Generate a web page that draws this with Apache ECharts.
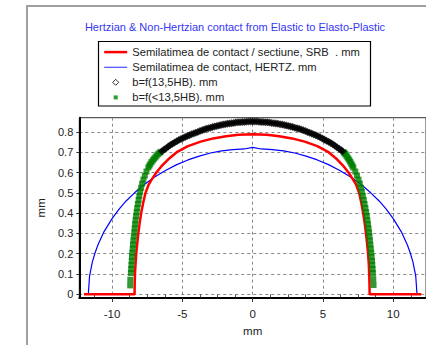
<!DOCTYPE html>
<html>
<head>
<meta charset="utf-8">
<script src="https://cdn.jsdelivr.net/npm/echarts@6/dist/echarts.min.js"></script>
<style>
  html, body { margin: 0; padding: 0; background: #fff; }
  #chart { width: 426px; height: 345px; }
</style>
</head>
<body>
<div id="chart"></div>
<script>
// Axis ticks and labels
const xTickLabels = [-10, -5, 0, 5, 10];
const xMinorTicks = [-11.25, -8.75, -7.5, -6.25, -3.75, -2.5, -1.25, 1.25, 2.5, 3.75, 6.25, 7.5, 8.75, 11.25];
const yTickLabels = [0, 0.1, 0.2, 0.3, 0.4, 0.5, 0.6, 0.7, 0.8];

// Series names
const nameSRB = 'Semilatimea de contact / sectiune, SRB  . mm';
const nameHertz = 'Semilatimea de contact, HERTZ. mm';
const nameHB = 'b=f(13,5HB). mm';
const nameHBlow = 'b=f(<13,5HB). mm';

// Semi-width of contact per section (SRB), [x mm, b mm]
const srbWidth = [
  [-12.0, 0], [-8.40, 0], [-8.39, 0.05], [-8.37, 0.10], [-8.33, 0.15], [-8.28, 0.20],
  [-8.21, 0.25], [-8.13, 0.30], [-8.04, 0.35], [-7.93, 0.40], [-7.79, 0.45], [-7.62, 0.50],
  [-7.40, 0.54], [-7.14, 0.57], [-6.85, 0.60], [-6.50, 0.63], [-6.00, 0.665], [-5.40, 0.70],
  [-4.60, 0.730], [-3.70, 0.752], [-2.80, 0.768], [-1.90, 0.779], [-1.00, 0.786], [0, 0.789],
  [1.00, 0.786], [1.90, 0.779], [2.80, 0.768], [3.70, 0.752], [4.60, 0.730], [5.40, 0.700],
  [6.00, 0.665], [6.48, 0.63], [6.82, 0.60], [7.10, 0.57], [7.36, 0.54], [7.57, 0.50],
  [7.73, 0.45], [7.86, 0.40], [7.97, 0.35], [8.06, 0.30], [8.14, 0.25], [8.21, 0.20],
  [8.26, 0.15], [8.29, 0.10], [8.31, 0.05], [8.32, 0], [12.0, 0]
];

// Hertzian semi-width of contact, [x mm, b mm]
const hertzWidth = [
  [-11.69, 0], [-11.6, 0.09], [-11.4, 0.16], [-11.2, 0.206], [-11.0, 0.244], [-10.6, 0.305],
  [-10.0, 0.373], [-9.5, 0.42], [-9.0, 0.46], [-8.4, 0.50], [-7.8, 0.536], [-7.0, 0.577],
  [-6.2, 0.61], [-5.4, 0.639], [-4.6, 0.662], [-3.8, 0.681], [-3.0, 0.696], [-2.2, 0.707],
  [-1.4, 0.713], [-0.6, 0.716], [0, 0.724], [0.6, 0.716], [1.4, 0.713], [2.2, 0.707],
  [3.0, 0.696], [3.8, 0.681], [4.6, 0.662], [5.4, 0.639], [6.2, 0.61], [7.0, 0.577],
  [7.8, 0.536], [8.4, 0.50], [9.0, 0.46], [9.5, 0.42], [10.0, 0.373], [10.6, 0.305],
  [11.0, 0.244], [11.2, 0.206], [11.4, 0.16], [11.6, 0.09], [11.69, 0]
];

// b = f(13,5HB), [x mm, b mm]
const hb135 = [
  [-6.45, 0.705], [-6.30, 0.713], [-6.15, 0.720], [-6.00, 0.728], [-5.85, 0.735], [-5.70, 0.742],
  [-5.55, 0.748], [-5.40, 0.754], [-5.25, 0.760], [-5.10, 0.765], [-4.95, 0.770], [-4.80, 0.775],
  [-4.65, 0.780], [-4.50, 0.784], [-4.35, 0.788], [-4.20, 0.792], [-4.05, 0.796], [-3.90, 0.800],
  [-3.75, 0.804], [-3.60, 0.808], [-3.45, 0.812], [-3.30, 0.815], [-3.15, 0.818], [-3.00, 0.821],
  [-2.85, 0.824], [-2.70, 0.827], [-2.55, 0.829], [-2.40, 0.832], [-2.25, 0.834], [-2.10, 0.836],
  [-1.95, 0.838], [-1.80, 0.840], [-1.65, 0.841], [-1.50, 0.843], [-1.35, 0.844], [-1.20, 0.846],
  [-1.05, 0.847], [-0.90, 0.848], [-0.75, 0.849], [-0.60, 0.849], [-0.45, 0.850], [-0.30, 0.851],
  [-0.15, 0.851], [0.00, 0.851], [0.15, 0.851], [0.30, 0.851], [0.45, 0.850], [0.60, 0.849],
  [0.75, 0.849], [0.90, 0.848], [1.05, 0.847], [1.20, 0.846], [1.35, 0.844], [1.50, 0.843],
  [1.65, 0.841], [1.80, 0.840], [1.95, 0.838], [2.10, 0.836], [2.25, 0.834], [2.40, 0.832],
  [2.55, 0.829], [2.70, 0.827], [2.85, 0.824], [3.00, 0.821], [3.15, 0.818], [3.30, 0.815],
  [3.45, 0.812], [3.60, 0.808], [3.75, 0.804], [3.90, 0.800], [4.05, 0.796], [4.20, 0.792],
  [4.35, 0.787], [4.50, 0.783], [4.65, 0.779], [4.80, 0.774], [4.95, 0.768], [5.10, 0.763],
  [5.25, 0.757], [5.40, 0.751], [5.55, 0.745], [5.70, 0.739], [5.85, 0.732], [6.00, 0.725],
  [6.15, 0.717], [6.30, 0.710], [6.40, 0.705]
];

// b = f(<13,5HB), [x mm, b mm]
const hbBelow = [
  [-8.71, 0.044], [-8.70, 0.072], [-8.66, 0.105], [-8.64, 0.125], [-8.62, 0.145], [-8.60, 0.165],
  [-8.58, 0.185], [-8.56, 0.205], [-8.53, 0.225], [-8.51, 0.245], [-8.48, 0.265], [-8.45, 0.285],
  [-8.42, 0.305], [-8.39, 0.325], [-8.36, 0.345], [-8.33, 0.365], [-8.29, 0.385], [-8.25, 0.405],
  [-8.21, 0.425], [-8.16, 0.445], [-8.11, 0.465], [-8.06, 0.485], [-8.00, 0.505], [-7.93, 0.525],
  [-7.86, 0.545], [-7.77, 0.565], [-7.67, 0.585], [-7.55, 0.605], [-7.42, 0.625], [-7.34, 0.634],
  [-7.27, 0.643], [-7.19, 0.652], [-7.10, 0.660], [-7.01, 0.668], [-6.92, 0.675], [-6.83, 0.683],
  [-6.73, 0.690], [-6.64, 0.696], [-6.55, 0.702],
  [8.60, 0.046], [8.58, 0.075], [8.55, 0.105], [8.53, 0.125], [8.51, 0.145], [8.49, 0.165],
  [8.46, 0.185], [8.43, 0.205], [8.40, 0.225], [8.37, 0.245], [8.34, 0.265], [8.31, 0.285],
  [8.28, 0.305], [8.24, 0.325], [8.20, 0.345], [8.16, 0.365], [8.12, 0.385], [8.07, 0.405],
  [8.02, 0.425], [7.96, 0.445], [7.90, 0.465], [7.84, 0.485], [7.77, 0.505], [7.70, 0.525],
  [7.62, 0.545], [7.53, 0.565], [7.42, 0.585], [7.30, 0.605], [7.16, 0.625], [7.09, 0.634],
  [7.02, 0.643], [6.95, 0.652], [6.88, 0.660], [6.81, 0.668], [6.74, 0.675], [6.67, 0.683],
  [6.60, 0.690], [6.54, 0.695], [6.48, 0.700]
];

const FONT = '"Liberation Sans", Arial, sans-serif';
const textColor = '#222';
const gridDash = { type: [3, 3], color: '#888', width: 1 };

// Legend glyphs drawn inside a 23x7 box (the leading moves fix the box size)
const iconRedLine = 'path://M0 0M23 7M0 2.25H23V4.75H0Z';
const iconBlueLine = 'path://M0 0M23 7M0 3H23V4.2H0Z';
const iconDiamond = 'path://M0 0M23 7M11.5 0.5L14.5 3.5L11.5 6.5L8.5 3.5Z';
const iconSquare = 'path://M0 0M23 7M9.5 1.5H13.5V5.5H9.5Z';

const chart = echarts.init(document.getElementById('chart'), null, { renderer: 'svg' });

chart.setOption({
  animation: false,
  backgroundColor: '#fff',
  graphic: [
    { type: 'rect', shape: { x: 27, y: 6, width: 420, height: 360 },
      style: { fill: 'none', stroke: '#a0a0a0', lineWidth: 2 }, silent: true },
    { type: 'text', x: 235, y: 27,
      style: { text: 'Hertzian & Non-Hertzian contact from Elastic to Elasto-Plastic',
               fill: '#3636f5', fontSize: 11, fontFamily: FONT, align: 'center', verticalAlign: 'middle' } },
    { type: 'rect', shape: { x: 98.5, y: 41.5, width: 272, height: 64.5 },
      style: { fill: 'none', stroke: '#000', lineWidth: 1.2 }, silent: true }
  ],
  legend: {
    orient: 'vertical',
    left: 98.7,
    top: 40.6,
    itemWidth: 23,
    itemHeight: 7,
    itemGap: 2.1,
    selectedMode: false,
    symbolKeepAspect: true,
    textStyle: { fontSize: 11.2, lineHeight: 13, color: textColor, fontFamily: FONT },
    data: [
      { name: nameSRB, icon: iconRedLine, itemStyle: { color: '#ff0000', borderWidth: 0 } },
      { name: nameHertz, icon: iconBlueLine, itemStyle: { color: '#4a4aff', borderWidth: 0 } },
      { name: nameHB, icon: iconDiamond, itemStyle: { color: '#fff', borderColor: '#000', borderWidth: 1 } },
      { name: nameHBlow, icon: iconSquare, itemStyle: { color: '#008000', borderWidth: 0 } }
    ]
  },
  grid: {
    left: 79.3, top: 117.7, right: -5.6, bottom: 47,
    show: true, borderColor: '#333', borderWidth: 1, backgroundColor: '#fff'
  },
  xAxis: [
    {
      type: 'value', min: -12.33, max: 12.33,
      name: 'mm', nameLocation: 'middle', nameGap: 22,
      nameTextStyle: { fontSize: 11.5, color: textColor, fontFamily: FONT },
      axisLine: { onZero: false, lineStyle: { color: '#000', width: 2 } },
      axisTick: { customValues: xTickLabels, length: 4, lineStyle: { color: '#333' } },
      axisLabel: { customValues: xTickLabels, margin: 10, fontSize: 11.5, color: textColor, fontFamily: FONT },
      splitLine: { show: true, lineStyle: gridDash }
    },
    {
      type: 'value', min: -12.33, max: 12.33, position: 'bottom',
      axisLine: { show: false },
      axisTick: { customValues: xMinorTicks, length: 3, lineStyle: { color: '#555' } },
      axisLabel: { show: false },
      splitLine: { show: false }
    }
  ],
  yAxis: {
    type: 'value', min: -0.018, max: 0.87,
    name: 'mm', nameLocation: 'middle', nameGap: 23, nameRotate: 90,
    nameTextStyle: { fontSize: 11.5, color: textColor, fontFamily: FONT },
    axisLine: { onZero: false, lineStyle: { color: '#000', width: 2 } },
    axisTick: { customValues: yTickLabels, length: 3, lineStyle: { color: '#333' } },
    axisLabel: { customValues: yTickLabels, margin: 6, fontSize: 11, color: textColor, fontFamily: FONT },
    splitLine: { show: true, lineStyle: gridDash }
  },
  series: [
    {
      type: 'line', name: nameHertz, data: hertzWidth, symbol: 'none',
      lineStyle: { color: '#0000ff', width: 1.2 }, itemStyle: { color: '#0000ff' }, z: 2
    },
    {
      type: 'line', name: nameSRB, data: srbWidth, symbol: 'none',
      lineStyle: { color: '#ff0000', width: 2.5 }, itemStyle: { color: '#ff0000' }, z: 3
    },
    {
      type: 'scatter', name: nameHBlow, data: hbBelow, symbol: 'rect', symbolSize: 6,
      itemStyle: { color: '#008000' }, z: 4
    },
    {
      type: 'scatter', name: nameHB, data: hb135, symbol: 'diamond', symbolSize: 8,
      itemStyle: { color: '#000' }, z: 5
    }
  ]
});
</script>
</body>
</html>
